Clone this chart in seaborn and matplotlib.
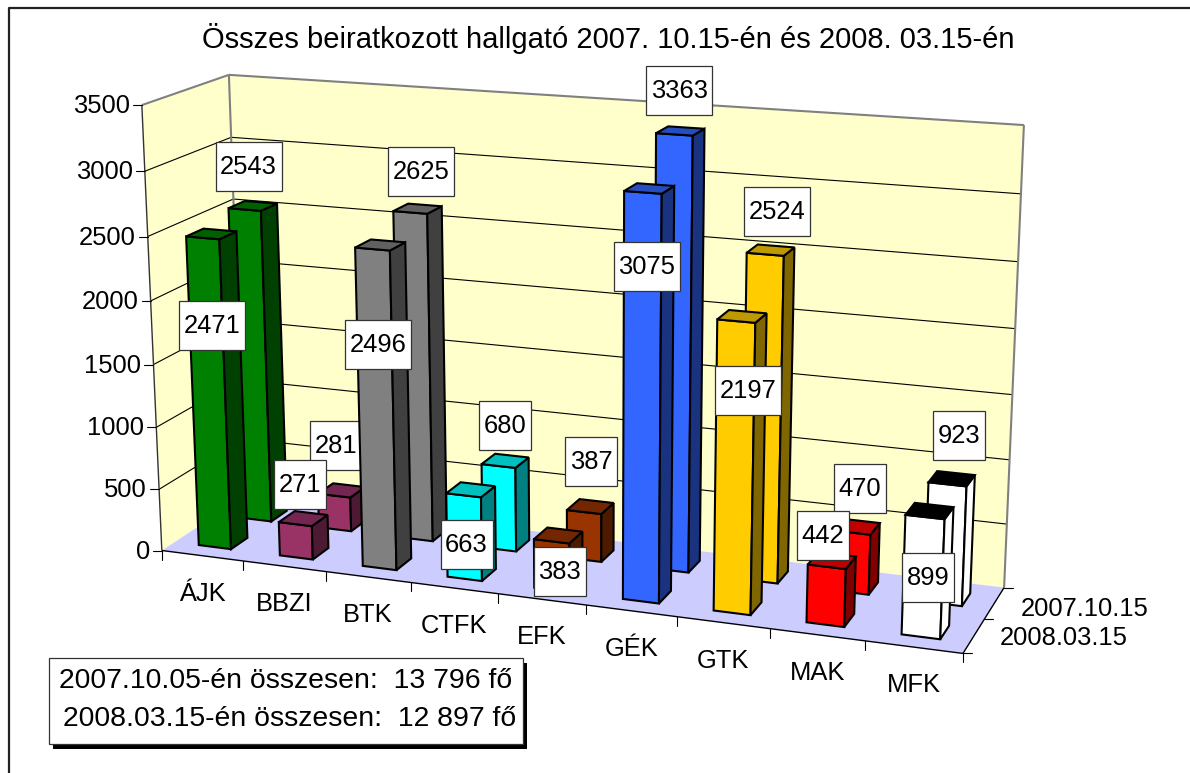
import numpy as np
import pandas as pd
import matplotlib
matplotlib.use("Agg")
import matplotlib.pyplot as plt
from matplotlib.patches import Polygon, Rectangle
import seaborn as sns

# data
categories = ['ÁJK', 'BBZI', 'BTK', 'CTFK', 'EFK', 'GÉK', 'GTK', 'MAK', 'MFK']
vals_2007 = [2543, 281, 2625, 680, 387, 3363, 2524, 470, 923]
vals_2008 = [2471, 271, 2496, 663, 383, 3075, 2197, 442, 899]
series_names = ['2008.03.15', '2007.10.15']
y_ticks = [0, 500, 1000, 1500, 2000, 2500, 3000, 3500]
title = 'Összes beiratkozott hallgató 2007. 10.15-én és 2008. 03.15-én'
note_lines = ['2007.10.05-én összesen:  13 796 fő', '2008.03.15-én összesen:  12 897 fő']

# front, side and top colour of each faculty
front_cols = ['#008000', '#993366', '#808080', '#00FFFF', '#993300', '#3366FF', '#FFCC00', '#FF0000', '#FFFFFF']
side_cols = ['#004000', '#4D1A33', '#404040', '#008080', '#4D1A00', '#1A3380', '#806600', '#800000', '#FFFFFF']
top_cols = ['#006000', '#732650', '#606060', '#00BFBF', '#732600', '#264DBF', '#BF9900', '#BF0000', '#000000']

# label box offsets from the top of each bar, in pixels
off_2008 = [(9, 88), (5, -40), (6, 95), (3, 49), (8, 30), (4, 74), (12, 69), (-4, -31), (3, 60)]
off_2007 = [(4, -43), (2, -50), (11, -41), (7, -41), (7, -51), (5, -44), (12, -43), (8, -44), (12, -49)]

sns.set_theme(style='white')
plt.rcParams['font.family'] = ['Liberation Sans', 'DejaVu Sans']
FS = 18.4

df = pd.DataFrame({'cat': categories, '2007': vals_2007, '2008': vals_2008})
palette = sns.color_palette(front_cols)

fig = plt.figure(figsize=(11.9, 7.73), dpi=100)
ax = fig.add_axes([0, 0, 1, 1])
ax.set_xlim(0, 1190)
ax.set_ylim(773, 0)
ax.axis('off')

# perspective camera fitted on the corners of the plot box
# (category position, depth 0-1, value) -> picture pixel
anchors = [((0, 0, 0), (161, 551)), ((0, 0, 3500), (142.7, 105)), ((0, 1, 3500), (228, 75)),
           ((9, 1, 3500), (1024, 125)), ((9, 1, 0), (1004, 588)), ((9, 0, 0), (963, 653)),
           ((0, 1, 0), (245, 496))]
A, b = [], []
for (u, d, z), (px, py) in anchors:
    u, z = u / 9, z / 3500
    A.append([u, d, z, 1, 0, 0, 0, 0, -px * u, -px * d, -px * z])
    A.append([0, 0, 0, 0, u, d, z, 1, -py * u, -py * d, -py * z])
    b += [px, py]
h = np.linalg.lstsq(np.array(A, float), np.array(b, float), rcond=None)[0]
cam = np.append(h, 1).reshape(3, 4)


def project(u, d, z):
    p = cam @ np.array([u / 9, d, z / 3500, 1])
    return p[0] / p[2], p[1] / p[2]


def face(pts, fc, ec='black', lw=1.5, zo=1):
    ax.add_patch(Polygon([project(*p) for p in pts], closed=True, facecolor=fc, edgecolor=ec,
                         linewidth=lw, joinstyle='miter', zorder=zo))


def seg(p, q, c='black', lw=0.8, zo=2):
    a, b_ = project(*p), project(*q)
    ax.plot([a[0], b_[0]], [a[1], b_[1]], color=c, lw=lw, zorder=zo, solid_capstyle='butt')


# frame of the picture
ax.plot([8.5, 8.5, 1190], [773, 7.5, 7.5], color='#222222', lw=1.6, zorder=0)

# walls and floor
face([(0, 0, 0), (0, 1, 0), (0, 1, 3500), (0, 0, 3500)], '#FFFFCC', ec='none', lw=0)
face([(0, 1, 0), (9, 1, 0), (9, 1, 3500), (0, 1, 3500)], '#FFFFCC', ec='none', lw=0)
face([(0, 0, 0), (9, 0, 0), (9, 1, 0), (0, 1, 0)], '#CCCCFF', ec='none', lw=0)

for v in y_ticks[1:-1]:
    seg((0, 0, v), (0, 1, v))
    seg((0, 1, v), (9, 1, v))
seg((0, 0, 3500), (0, 1, 3500), c='#808080', lw=1.5)
seg((0, 1, 3500), (9, 1, 3500), c='#808080', lw=1.5)
seg((9, 1, 3500), (9, 1, 0), c='#808080', lw=1.5)
seg((0, 1, 3500), (0, 1, 0), c='#808080', lw=1.5)

# axes lines
seg((0, 0, 0), (0, 0, 3500), c='#333333', lw=1.0)
seg((0, 0, 0), (9, 0, 0), lw=1.0)
seg((9, 0, 0), (9, 1, 0), lw=1.0)

# value ticks and labels
for v in y_ticks:
    x, y = project(0, 0, v)
    ax.plot([x - 9, x], [y, y], color='black', lw=0.8, zorder=2)
    ax.text(x - 12, y + 1, str(v), ha='right', va='center', fontsize=FS, color='black')

# category ticks and labels
for i in range(10):
    x, y = project(i, 0, 0)
    ax.plot([x, x], [y, y + 9], color='black', lw=0.8, zorder=2)
for i, c in enumerate(df['cat']):
    x, y = project(i + 0.5, 0, 0)
    ax.text(x, y + 38, c, ha='center', va='center', fontsize=FS, color='black')

# depth ticks and labels
for d in [0, 0.5, 1]:
    x, y = project(9, d, 0)
    ax.plot([x, x + 9], [y, y], color='black', lw=0.8, zorder=2)
for d, name in zip([0.25, 0.75], series_names):
    x, y = project(9, d, 0)
    ax.text(x + 26, y + 2 + 4 * (d > 0.5), name, ha='left', va='center', fontsize=FS, color='black')


def draw_row(vals, offs, d0, d1, zo):
    for i, v in enumerate(vals):
        u0, u1 = i + 0.3, i + 0.7
        face([(u0, d0, 0), (u1, d0, 0), (u1, d0, v), (u0, d0, v)], palette[i], zo=zo)
        face([(u1, d0, 0), (u1, d1, 0), (u1, d1, v), (u1, d0, v)], side_cols[i], zo=zo)
        face([(u0, d0, v), (u1, d0, v), (u1, d1, v), (u0, d1, v)], top_cols[i], zo=zo)
    # labels go on after the bars of their own row
    for i, v in enumerate(vals):
        x, y = project(i + 0.5, d0, v)
        cx, cy = x + offs[i][0], y + offs[i][1]
        w = 66 if v >= 1000 else 52
        ax.add_patch(Rectangle((cx - w / 2, cy - 24.5), w, 49, facecolor='white', edgecolor='#333333',
                               linewidth=0.9, zorder=zo + 1))
        ax.text(cx, cy + 0.5, str(v), ha='center', va='center', fontsize=FS, color='black', zorder=zo + 2)


draw_row(df['2007'], off_2007, 0.65, 0.85, 5)
draw_row(df['2008'], off_2008, 0.15, 0.35, 10)

# title
ax.text(608, 38, title, ha='center', va='center', fontsize=21, color='black')

# note box with its shadow
ax.add_patch(Rectangle((53, 663), 474, 86, facecolor='black', edgecolor='none', zorder=20))
ax.add_patch(Rectangle((48.5, 657.5), 474, 86, facecolor='white', edgecolor='#333333', linewidth=0.9, zorder=21))
ax.text(286, 681, note_lines[0], ha='center', va='center', fontsize=20.4, color='black', zorder=22)
ax.text(290, 719, note_lines[1], ha='center', va='center', fontsize=20.4, color='black', zorder=22)

fig.savefig('out.png', dpi=100, facecolor='white')
